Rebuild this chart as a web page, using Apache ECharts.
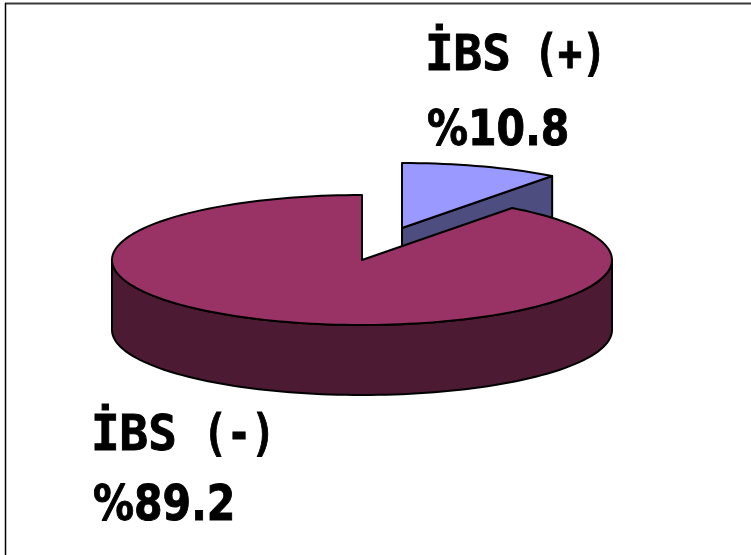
<!DOCTYPE html>
<html><head><meta charset="utf-8">
<style>html,body{margin:0;padding:0;background:#fff}#c{width:751px;height:555px}</style>
<script src="https://cdn.jsdelivr.net/npm/echarts@6/dist/echarts.min.js"></script>
</head><body><div id="c"></div>
<script>
// ---- data ----
const sliceNames = ['İBS (+)', 'İBS (-)'];
const sliceValues = [10.8, 89.2];
const sliceColors = ['#9999FF', '#993366'];
const sideColors = ['#4D4D80', '#4D1A33'];

// ---- layout ----
const CX = 362, CY = 260, RX = 250, RY = 65, DEPTH = 70;
const offsets = [[40, -32], [0, 0]];
const nameWords = [[[425, 82], [534, 82]], [[91, 462], [203, 462]]];
const wordScale = [0.95, 0.8];
const valuePos = [[427, 157], [93, 532]];
const MONO = '"DejaVu Sans Mono"', SANS = '"DejaVu Sans"';
const drawOrder = [0, 1];

const total = sliceValues.reduce((a, b) => a + b, 0);
// slight correction for the projected angle of the tilted disc
const warp = t => t - 0.035 * Math.sin(2 * t);
function pt(t, ox, oy, dz) {
  const w = warp(t);
  return [CX + ox + RX * Math.sin(w), CY + oy - RY * Math.cos(w) + (dz || 0)];
}
function arc(a, b, ox, oy, dz) {
  const n = Math.max(2, Math.round(Math.abs(b - a) / (Math.PI / 90)));
  const out = [];
  for (let i = 0; i <= n; i++) out.push(pt(a + (b - a) * i / n, ox, oy, dz));
  return out;
}
const line = { stroke: '#000', lineWidth: 2, lineJoin: 'round' };
function poly(points, fill) {
  return { type: 'polygon', shape: { points }, style: Object.assign({ fill }, line) };
}
function txt(s, p, family, sx) {
  return {
    type: 'text', x: p[0], y: p[1], scaleX: sx,
    style: {
      text: s, x: 0, y: 0, textAlign: 'left', textVerticalAlign: 'bottom',
      font: 'bold 50px ' + family, fill: '#000',
      stroke: '#000', lineWidth: 1, lineJoin: 'round'
    }
  };
}

// start angle of each slice, clockwise from the top
const starts = []; let acc = 0;
sliceValues.forEach(v => { starts.push(acc); acc += v / total * 2 * Math.PI; });

function renderItem(params, api) {
  const i = drawOrder[params.dataIndex];
  const a = starts[i], b = a + sliceValues[i] / total * 2 * Math.PI;
  const [ox, oy] = offsets[i];
  const apex = [CX + ox, CY + oy];
  const kids = [];
  // cut face at the end of the slice, seen only where it faces the viewer
  if (i === 0) {
    const e = pt(b, ox, oy);
    kids.push(poly([apex, e, [e[0], e[1] + DEPTH], [apex[0], apex[1] + DEPTH]], sideColors[i]));
  } else {
    // outer wall: front half of the rim
    const lo = Math.max(a, Math.PI / 2), hi = Math.min(b, 3 * Math.PI / 2);
    kids.push(poly(arc(lo, hi, ox, oy).concat(arc(hi, lo, ox, oy, DEPTH)), sideColors[i]));
  }
  kids.push(poly([apex].concat(arc(a, b, ox, oy)), sliceColors[i]));
  return { type: 'group', children: kids };
}
function labelItem(params, api) {
  const i = params.dataIndex;
  const words = sliceNames[i].split(' ');
  const kids = words.map((w, k) => txt(w, nameWords[i][k], MONO, wordScale[k]));
  kids.push(txt('%' + sliceValues[i], valuePos[i], SANS, 0.82));
  return { type: 'group', children: kids };
}

const chart = echarts.init(document.getElementById('c'), null, { renderer: 'canvas' });
chart.setOption({
  animation: false,
  backgroundColor: '#fff',
  graphic: [
    { type: 'line', shape: { x1: 5, y1: 3.5, x2: 751, y2: 3.5 }, style: { stroke: '#3a3a3a', lineWidth: 2 } },
    { type: 'line', shape: { x1: 5.5, y1: 3, x2: 5.5, y2: 555 }, style: { stroke: '#000', lineWidth: 1.5 } }
  ],
  series: [
    { type: 'custom', coordinateSystem: 'none', renderItem, data: drawOrder.map(i => [sliceValues[i]]), silent: true },
    { type: 'custom', coordinateSystem: 'none', renderItem: labelItem, data: sliceValues.map(v => [v]), silent: true }
  ]
});
</script></body></html>
